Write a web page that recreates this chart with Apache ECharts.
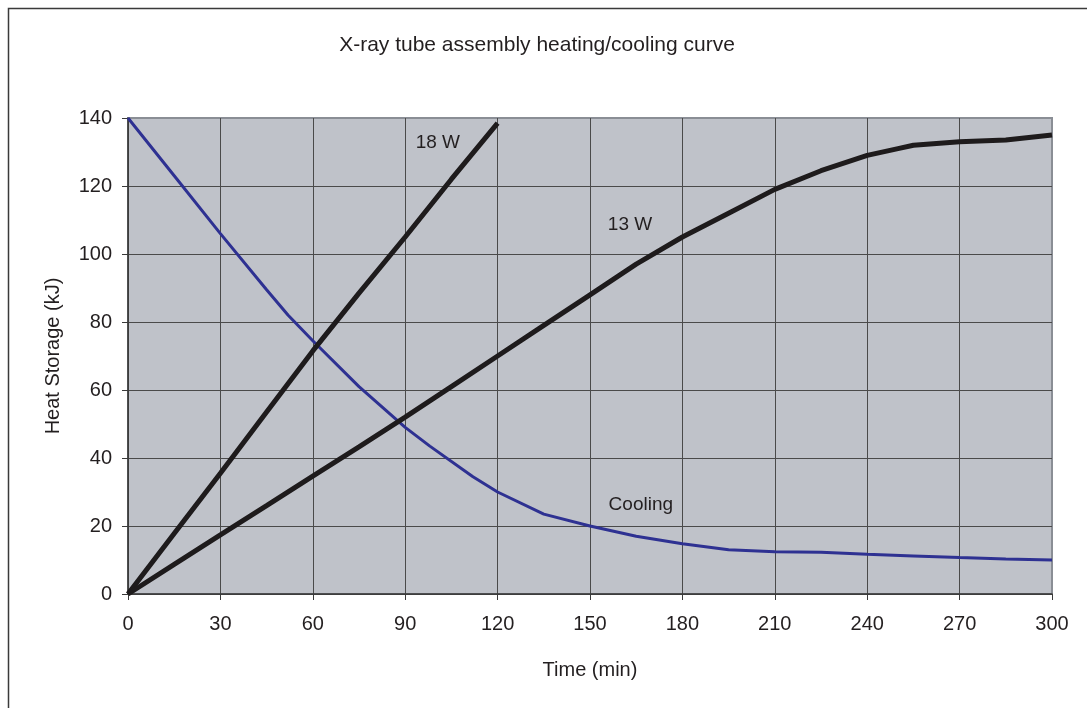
<!DOCTYPE html>
<html>
<head>
<meta charset="utf-8">
<script src="https://cdn.jsdelivr.net/npm/echarts@6/dist/echarts.min.js"></script>
<style>
  html, body { margin: 0; padding: 0; background: #ffffff; }
  #chart { width: 1087px; height: 708px; }
</style>
</head>
<body>
<div id="chart"></div>
<script>
// ---- data ----
var xTicks = [0, 30, 60, 90, 120, 150, 180, 210, 240, 270, 300];
var yTicks = [0, 20, 40, 60, 80, 100, 120, 140];

var time18 = [0, 15, 30, 45, 60, 75, 90, 105, 120];
var heat18 = [0, 17.8, 35.5, 53.5, 71.5, 88.5, 105, 122, 138.5];

var time13 = [0, 15, 30, 45, 60, 75, 90, 105, 120, 135, 150, 165, 180, 195, 210, 225, 240, 250, 255, 270, 285, 300];
var heat13 = [0, 8.7, 17.4, 26, 34.7, 43.3, 52, 61, 70, 79, 88, 97, 105, 112, 119, 124.5, 129, 131, 132, 133, 133.5, 135];

var timeCool = [0, 15, 30, 45, 52, 60, 75, 90, 98, 112, 120, 135, 150, 165, 180, 195, 210, 225, 240, 255, 270, 285, 300];
var heatCool = [140, 123, 106, 89.5, 82, 74.5, 61, 49, 43.5, 34.5, 30, 23.5, 20, 17, 14.8, 13, 12.4, 12.3, 11.7, 11.2, 10.7, 10.3, 10];

var labelNames = ['18 W', '13 W', 'Cooling'];
var labelPos = [[100.6, 132.6], [163, 108.6], [166.5, 26.2]];

function pairs(xs, ys) {
  return xs.map(function (x, i) { return [x, ys[i]]; });
}

var FONT = '"Liberation Sans", Arial, sans-serif';
var chart = echarts.init(document.getElementById('chart'), null, { renderer: 'canvas' });

function lineLabel(i) {
  return {
    symbol: 'circle',
    symbolSize: 0,
    silent: true,
    label: {
      show: true,
      position: 'inside',
      formatter: labelNames[i],
      color: '#231f20',
      fontSize: 19,
      fontFamily: FONT
    },
    data: [{ coord: labelPos[i] }]
  };
}

var option = {
  animation: false,
  backgroundColor: '#ffffff',
  title: {
    text: 'X-ray tube assembly heating/cooling curve',
    left: 532,
    textAlign: 'center',
    top: 30,
    textStyle: { fontFamily: FONT, fontSize: 21, fontWeight: 'normal', color: '#231f20' }
  },
  graphic: [{
    type: 'rect',
    silent: true,
    shape: { x: 8.5, y: 8.5, width: 1200, height: 800 },
    style: { fill: 'none', stroke: '#3a3a3a', lineWidth: 1.5 }
  }],
  grid: {
    left: 128, right: 35, top: 118, bottom: 114,
    show: true,
    backgroundColor: '#bfc2c9',
    borderColor: '#8a8e95',
    borderWidth: 2
  },
  xAxis: {
    type: 'value',
    min: 0, max: 300, interval: 30,
    name: 'Time (min)',
    nameLocation: 'middle',
    nameGap: 66,
    nameTextStyle: { fontFamily: FONT, fontSize: 20, color: '#231f20' },
    axisLine: { show: true, lineStyle: { color: '#3a3a3a', width: 1.5 } },
    axisTick: { show: true, length: 6, lineStyle: { color: '#3a3a3a' } },
    axisLabel: {
      margin: 20, fontFamily: FONT, fontSize: 20, color: '#231f20',
      formatter: function (v) { return xTicks.indexOf(v) >= 0 ? String(v) : ''; }
    },
    splitLine: { show: true, showMaxLine: false, lineStyle: { color: '#4a4a4a', width: 1 } }
  },
  yAxis: {
    type: 'value',
    min: 0, max: 140, interval: 20,
    name: 'Heat Storage (kJ)',
    nameLocation: 'middle',
    nameGap: 65,
    nameTextStyle: { fontFamily: FONT, fontSize: 20, color: '#231f20' },
    axisLine: { show: true, lineStyle: { color: '#3a3a3a', width: 1.5 } },
    axisTick: { show: true, length: 6, lineStyle: { color: '#3a3a3a' } },
    axisLabel: {
      margin: 16, fontFamily: FONT, fontSize: 20, color: '#231f20',
      formatter: function (v) { return yTicks.indexOf(v) >= 0 ? String(v) : ''; }
    },
    splitLine: { show: true, showMaxLine: false, lineStyle: { color: '#4a4a4a', width: 1 } }
  },
  series: [
    {
      name: '18 W', type: 'line', data: pairs(time18, heat18),
      showSymbol: false, symbol: 'none',
      lineStyle: { color: '#1e1b1c', width: 5 },
      markPoint: lineLabel(0), z: 3
    },
    {
      name: '13 W', type: 'line', data: pairs(time13, heat13),
      showSymbol: false, symbol: 'none',
      lineStyle: { color: '#1e1b1c', width: 5 },
      markPoint: lineLabel(1), z: 3
    },
    {
      name: 'Cooling', type: 'line', data: pairs(timeCool, heatCool),
      showSymbol: false, symbol: 'none',
      lineStyle: { color: '#2e3192', width: 3 },
      markPoint: lineLabel(2), z: 2
    }
  ]
};
chart.setOption(option);
</script>
</body>
</html>
